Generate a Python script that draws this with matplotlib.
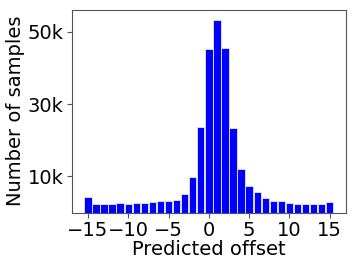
import numpy as np
import matplotlib
matplotlib.use('Agg')
import matplotlib.pyplot as plt

# offsets and sample counts (thousands)
offsets = list(range(-15, 16))
counts_k = [4.3, 2.45, 2.4, 2.45, 2.65, 2.45, 2.75, 2.65, 2.9, 3.1, 3.3, 3.6,
            5.1, 9.7, 23.8, 45.2, 53.4, 45.5, 23.3, 12.1, 7.25, 5.7, 4.1,
            3.3, 3.2, 2.75, 2.45, 2.45, 2.45, 2.4, 3.0]
counts = np.array(counts_k) * 1000

ytick_vals = [10000, 30000, 50000]
ytick_labels = ['10k', '30k', '50k']
xtick_vals = [-15, -10, -5, 0, 5, 10, 15]

fig = plt.figure(figsize=(3.57, 2.68), dpi=100)
ax = fig.add_axes([0.201, 0.207, 0.768, 0.756])
ax.bar(offsets, counts, width=0.92, color='blue', edgecolor='#dcdcf4', linewidth=0.7)
ax.set_yticks(ytick_vals)
ax.set_yticklabels(ytick_labels)
ax.set_xticks(xtick_vals)
ax.tick_params(labelsize=14, color='#555555', pad=2.5)
for s in ax.spines.values():
    s.set_color('#555555')
ax.set_xlabel('Predicted offset', fontsize=14, labelpad=0)
ax.set_ylabel('Number of samples', fontsize=14, labelpad=2)
fig.savefig('out.png', dpi=100)
